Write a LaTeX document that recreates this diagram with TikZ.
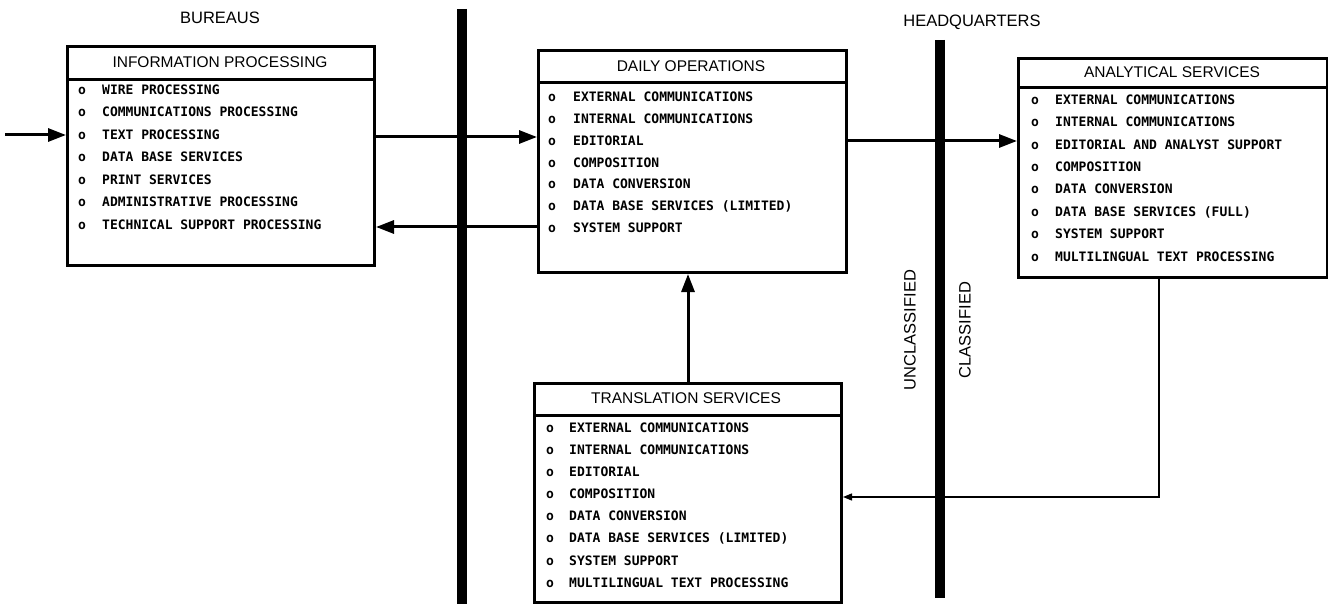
\documentclass[tikz,border=0pt]{standalone}
\usepackage{fontspec}
\setmainfont{Liberation Sans}
\newfontfamily\itemfont{DejaVu Sans Mono}
\usetikzlibrary{arrows.meta,calc}
\tikzset{
  sbox/.style={draw, line width=3pt, fill=white, inner sep=0pt, anchor=north west},
  sepline/.style={line width=3pt},
  ttl/.style={font=\fontsize{15.5}{17}\selectfont, inner sep=0pt},
  itm/.style={font=\itemfont\bfseries\fontsize{13}{14}\selectfont, inner sep=0pt, anchor=base west},
  lbl/.style={font=\fontsize{16.5}{18}\selectfont, inner sep=0pt},
  arr/.style={line width=3pt, -{Triangle[length=18pt,width=13pt]}},
  thinarr/.style={line width=1.4pt, -{Triangle[length=9pt,width=7pt]}},
  bar/.style={line width=10pt}
}
\newcommand\itemlist[6]{%
  \foreach \t [count=\i] in {#6} {
    \node[itm] (#1-b\i) at ({#2-4},{#4+(\i-1)*#5+4.4}) {o};
    \node[itm] (#1-t\i) at ({#3},{#4+(\i-1)*#5+4.4}) {\t};
  }%
}
\begin{document}
\begin{tikzpicture}[x=1pt,y=-1pt]
\useasboundingbox (0,0) rectangle (1328,604);
% division bars
\draw[bar] (462,9) -- (462,606);
\draw[bar] (940,40) -- (940,598);
% labels
\node[lbl] (bur) at (220,18) {BUREAUS};
\node[lbl] (hq) at (972,22) {HEADQUARTERS};
\node[lbl, rotate=90] (uncl) at (910,330) {UNCLASSIFIED};
\node[lbl, rotate=90] (cl) at (965,330) {CLASSIFIED};
% boxes
\node[sbox, minimum width=307pt, minimum height=219pt] (ip) at (66,45) {};
\draw[sepline] (ip.west |- 0,80) -- (ip.east |- 0,80);
\node[ttl] (ip-ttl) at (220,62.5) {INFORMATION PROCESSING};
\itemlist{ip}{82}{102}{90}{22.5}{{WIRE PROCESSING},{COMMUNICATIONS PROCESSING},{TEXT PROCESSING},{DATA BASE SERVICES},{PRINT SERVICES},{ADMINISTRATIVE PROCESSING},{TECHNICAL SUPPORT PROCESSING}}

\node[sbox, minimum width=308pt, minimum height=222pt] (do) at (537,49) {};
\draw[sepline] (do.west |- 0,83) -- (do.east |- 0,83);
\node[ttl] (do-ttl) at (691,66) {DAILY OPERATIONS};
\itemlist{do}{552}{573}{97}{21.9}{{EXTERNAL COMMUNICATIONS},{INTERNAL COMMUNICATIONS},{EDITORIAL},{COMPOSITION},{DATA CONVERSION},{DATA BASE SERVICES (LIMITED)},{SYSTEM SUPPORT}}

\node[sbox, minimum width=309pt, minimum height=219pt] (as) at (1017,57) {};
\draw[sepline] (as.west |- 0,88) -- (as.east |- 0,88);
\node[ttl] (as-ttl) at (1172,72.5) {ANALYTICAL SERVICES};
\itemlist{as}{1035}{1055}{100}{22.4}{{EXTERNAL COMMUNICATIONS},{INTERNAL COMMUNICATIONS},{EDITORIAL AND ANALYST SUPPORT},{COMPOSITION},{DATA CONVERSION},{DATA BASE SERVICES (FULL)},{SYSTEM SUPPORT},{MULTILINGUAL TEXT PROCESSING}}

\node[sbox, minimum width=307pt, minimum height=219pt] (ts) at (533,382) {};
\draw[sepline] (ts.west |- 0,415) -- (ts.east |- 0,415);
\node[ttl] (ts-ttl) at (686,398.5) {TRANSLATION SERVICES};
\itemlist{ts}{550}{569}{428}{22.1}{{EXTERNAL COMMUNICATIONS},{INTERNAL COMMUNICATIONS},{EDITORIAL},{COMPOSITION},{DATA CONVERSION},{DATA BASE SERVICES (LIMITED)},{SYSTEM SUPPORT},{MULTILINGUAL TEXT PROCESSING}}

% connectors
\coordinate (in) at (5,135);
\draw[arr] (in) -- (ip.west |- in);
\draw[arr] (ip.east |- 0,137) -- (do.west |- 0,137);
\draw[arr] (do.west |- 0,227) -- (ip.east |- 0,227);
\draw[arr] (do.east |- 0,141) -- (as.west |- 0,141);
\draw[arr] (ts.north -| 688,0) -- (do.south -| 688,0);
\coordinate (fb) at (1159,497);
\draw[thinarr] (as.south -| fb) -- (fb) -- (ts.east |- fb);
\end{tikzpicture}
\end{document}
